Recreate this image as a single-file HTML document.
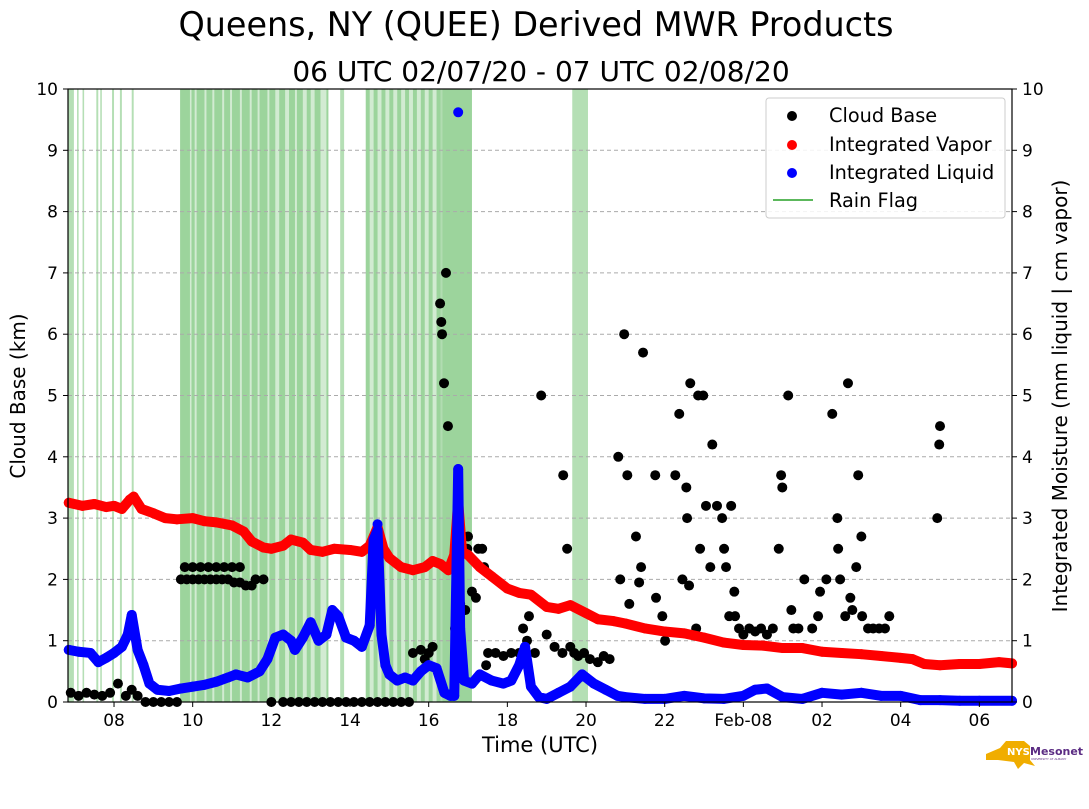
<!DOCTYPE html>
<html><head><meta charset="utf-8"><style>
body{margin:0;background:#fff;font-family:"Liberation Sans","DejaVu Sans",sans-serif}
svg text{font-family:"DejaVu Sans","Liberation Sans",sans-serif}
</style></head><body>
<svg id="c" width="1089" height="804" viewBox="0 0 1089 804">
<text x="536" y="36" font-size="33.4" text-anchor="middle">Queens, NY (QUEE) Derived MWR Products</text>
<text x="541" y="81" font-size="28" text-anchor="middle">06 UTC 02/07/20 - 07 UTC 02/08/20</text>
<g id="rain"></g>
<g id="grid"></g>
<g id="marks"></g>
<g id="axes"></g>
<text x="25" y="396" font-size="20" text-anchor="middle" transform="rotate(-90 25 396)">Cloud Base (km)</text>
<text x="1067" y="396" font-size="20" text-anchor="middle" transform="rotate(-90 1067 396)">Integrated Moisture (mm liquid | cm vapor)</text>
<text x="540" y="752" font-size="21" text-anchor="middle">Time (UTC)</text>
<g>
<rect x="766" y="98" width="239" height="120" rx="3" fill="#fff" fill-opacity="0.85" stroke="#ccc"/>
<circle cx="792" cy="116" r="5" fill="#000"/>
<text x="829" y="122" font-size="19.3">Cloud Base</text>
<circle cx="792" cy="145" r="5" fill="#f00"/>
<text x="829" y="151" font-size="19.3">Integrated Vapor</text>
<circle cx="792" cy="173" r="5" fill="#00f"/>
<text x="829" y="179" font-size="19.3">Integrated Liquid</text>
<line x1="773" y1="200" x2="813" y2="200" stroke="#5cb85c" stroke-width="2"/>
<text x="829" y="207" font-size="19.3">Rain Flag</text>
</g>
<g>
<polygon points="986,754 1000,748 1006,741 1024,741 1030,746 1030,760 1035,766 1024,763 1018,769 1014,762 998,760 986,760" fill="#f0ad00"/>
<text x="1007" y="755" font-size="10" font-weight="bold" fill="#fff">NYS</text>
<text x="1030" y="755" font-size="11" font-weight="bold" fill="#5b2c83">Mesonet</text>
<text x="1031" y="760" font-size="3" fill="#5b2c83">UNIVERSITY AT ALBANY</text>
</g>
</svg>
<script>
const xTickHours=[8,10,12,14,16,18,20,22,24,26,28,30];
const xTickLabels=["08","10","12","14","16","18","20","22","Feb-08","02","04","06"];
const yTicks=[0,1,2,3,4,5,6,7,8,9,10];
const rainStart=[6.83,7.06,7.2,7.55,7.65,7.95,8.15,8.45,9.68,9.97,10.1,10.35,10.55,10.8,11.0,11.25,11.5,11.7,11.95,12.2,12.45,12.65,12.9,13.1,13.4,13.75,14.4,14.6,14.8,15.0,15.2,15.4,15.6,15.8,16.0,16.2,16.35,19.65];
const rainEnd=[6.98,7.1,7.24,7.6,7.69,8.0,8.2,8.5,9.93,10.05,10.3,10.5,10.75,10.95,11.2,11.45,11.65,11.9,12.1,12.35,12.6,12.8,13.0,13.25,13.45,13.85,14.5,14.7,14.9,15.1,15.3,15.5,15.7,15.9,16.1,16.3,17.1,20.05];
const rainPaleStart=[9.68,14.4,16.3];
const rainPaleEnd=[13.45,16.35,17.1];
const vaporHours=[6.85,7.2,7.5,7.8,8.0,8.2,8.4,8.5,8.7,9.0,9.3,9.6,10.0,10.3,10.6,11.0,11.3,11.5,11.8,12.0,12.3,12.5,12.8,13.0,13.3,13.6,14.0,14.3,14.5,14.7,14.85,15.0,15.3,15.6,15.9,16.1,16.3,16.5,16.65,16.75,16.85,17.0,17.3,17.6,18.0,18.3,18.6,19.0,19.3,19.6,20.0,20.3,20.7,21.0,21.5,22.0,22.5,23.0,23.5,24.0,24.5,25.0,25.5,26.0,26.5,27.0,27.5,28.0,28.3,28.6,29.0,29.5,30.0,30.5,30.83];
const vaporVals=[3.25,3.2,3.23,3.18,3.2,3.15,3.3,3.35,3.15,3.08,3.0,2.98,3.0,2.95,2.93,2.88,2.78,2.62,2.52,2.5,2.55,2.65,2.6,2.48,2.45,2.5,2.48,2.45,2.55,2.85,2.5,2.35,2.2,2.15,2.2,2.3,2.25,2.15,2.4,3.27,2.45,2.4,2.2,2.05,1.85,1.78,1.75,1.55,1.52,1.58,1.45,1.35,1.32,1.28,1.2,1.15,1.12,1.05,0.97,0.93,0.92,0.88,0.88,0.82,0.8,0.78,0.75,0.72,0.7,0.62,0.6,0.62,0.62,0.65,0.63];
const liquidHours=[6.85,7.1,7.4,7.6,7.8,8.0,8.2,8.35,8.45,8.6,8.75,8.9,9.1,9.4,9.7,10.0,10.3,10.6,10.9,11.1,11.4,11.7,11.9,12.1,12.3,12.5,12.6,12.8,13.0,13.2,13.4,13.55,13.7,13.9,14.1,14.3,14.5,14.6,14.7,14.8,14.9,15.0,15.2,15.4,15.6,15.8,16.0,16.2,16.4,16.55,16.65,16.75,16.8,16.9,17.1,17.3,17.6,17.9,18.1,18.3,18.45,18.6,18.8,19.0,19.3,19.6,19.9,20.2,20.5,20.8,21.0,21.5,22.0,22.5,23.0,23.5,24.0,24.3,24.6,25.0,25.5,26.0,26.5,27.0,27.5,28.0,28.5,29.0,29.5,30.0,30.83];
const liquidVals=[0.85,0.82,0.8,0.65,0.72,0.8,0.9,1.1,1.42,0.85,0.6,0.3,0.2,0.18,0.22,0.25,0.28,0.33,0.4,0.45,0.4,0.5,0.7,1.05,1.1,1.0,0.85,1.05,1.3,1.0,1.1,1.5,1.4,1.05,1.0,0.9,1.25,2.65,2.8,1.1,0.6,0.45,0.35,0.4,0.35,0.5,0.6,0.55,0.15,0.1,0.1,3.8,1.2,0.35,0.3,0.45,0.35,0.3,0.35,0.6,0.9,0.25,0.08,0.05,0.15,0.25,0.45,0.3,0.2,0.1,0.08,0.05,0.05,0.1,0.06,0.05,0.1,0.2,0.22,0.08,0.05,0.15,0.12,0.15,0.1,0.1,0.03,0.03,0.02,0.02,0.02];
const liquidOutHours=[16.75,14.65,14.75,14.7];
const liquidOutVals=[9.62,2.05,1.7,2.9];
const cloudHours=[
6.9,7.1,7.3,7.5,7.7,7.9,8.1,8.3,8.45,8.6,
8.8,9.0,9.2,9.4,9.6,9.7,9.85,10.0,10.15,10.3,
10.45,10.6,10.75,10.9,11.05,11.2,11.35,11.5,9.8,10.0,
10.2,10.4,10.6,10.8,11.0,11.2,11.6,11.8,12.0,12.3,
12.5,12.7,12.9,13.1,13.3,13.5,13.7,13.9,14.1,14.3,
14.5,14.7,14.9,15.1,15.3,15.5,15.6,15.8,16.0,16.1,
15.9,16.29,16.32,16.34,16.39,16.44,16.49,16.62,16.67,16.8,
16.93,17.0,16.98,17.1,17.26,17.36,17.41,17.2,17.46,17.51,
17.7,17.9,18.1,18.3,18.4,18.5,18.55,18.86,18.7,19.0,
19.2,19.42,19.52,19.4,19.6,19.7,19.8,19.95,20.1,20.3,
20.45,20.6,20.82,20.87,20.97,21.05,21.1,21.27,21.35,21.4,
21.45,21.76,21.78,21.94,22.01,22.27,22.37,22.45,22.55,22.57,
22.65,22.62,22.8,22.9,22.85,22.98,23.16,23.05,23.21,23.33,
23.46,23.51,23.56,23.64,23.69,23.77,23.79,23.89,24.0,24.15,
24.3,24.45,24.6,24.75,24.9,24.96,24.99,25.14,25.22,25.27,
25.4,25.55,25.75,25.9,25.95,26.11,26.26,26.39,26.41,26.46,
26.59,26.66,26.72,26.77,26.87,26.92,27.0,27.02,27.17,27.3,
27.45,27.6,27.71,28.93,28.98,29.0];
const cloudKm=[
0.15,0.1,0.15,0.12,0.1,0.15,0.3,0.1,0.2,0.1,
0.0,0.0,0.0,0.0,0.0,2.0,2.0,2.0,2.0,2.0,
2.0,2.0,2.0,2.0,1.95,1.95,1.9,1.9,2.2,2.2,
2.2,2.2,2.2,2.2,2.2,2.2,2.0,2.0,0.0,0.0,
0.0,0.0,0.0,0.0,0.0,0.0,0.0,0.0,0.0,0.0,
0.0,0.0,0.0,0.0,0.0,0.0,0.8,0.85,0.8,0.9,
0.7,6.5,6.2,6.0,5.2,7.0,4.5,2.2,1.2,1.6,
1.5,2.7,2.5,1.8,2.5,2.5,2.2,1.7,0.6,0.8,
0.8,0.75,0.8,0.8,1.2,1.0,1.4,5.0,0.8,1.1,
0.9,3.7,2.5,0.8,0.9,0.8,0.75,0.8,0.7,0.65,
0.75,0.7,4.0,2.0,6.0,3.7,1.6,2.7,1.95,2.2,
5.7,3.7,1.7,1.4,1.0,3.7,4.7,2.0,3.5,3.0,
5.2,1.9,1.2,2.5,5.0,5.0,2.2,3.2,4.2,3.2,
3.0,2.5,2.2,1.4,3.2,1.8,1.4,1.2,1.1,1.2,
1.15,1.2,1.1,1.2,2.5,3.7,3.5,5.0,1.5,1.2,
1.2,2.0,1.2,1.4,1.8,2.0,4.7,3.0,2.5,2.0,
1.4,5.2,1.7,1.5,2.2,3.7,2.7,1.4,1.2,1.2,
1.2,1.2,1.4,3.0,4.2,4.5];

const L=68,R=1012,T=89,B=702,H0=6.83,H1=30.83;
const X=h=>L+(h-H0)/(H1-H0)*(R-L);
const Y=v=>B-v/10*(B-T);
const NS="http://www.w3.org/2000/svg";
function mk(tag,parent,at){const e=document.createElementNS(NS,tag);for(const k in at)e.setAttribute(k,at[k]);parent.appendChild(e);return e;}
const rain=document.getElementById('rain'),grid=document.getElementById('grid'),marks=document.getElementById('marks'),axes=document.getElementById('axes');
rainPaleStart.forEach((s,i)=>{
  const r=mk('rect',rain,{x:X(s),y:T,width:X(rainPaleEnd[i])-X(s),height:B-T,fill:'#5cb85c','fill-opacity':0.28});
  
  
});
rainStart.forEach((s,i)=>{
  const r=mk('rect',rain,{x:X(s),y:T,width:Math.max(1.5,X(rainEnd[i])-X(s)),height:B-T,fill:'#5cb85c','fill-opacity':0.45});
  
  
});
yTicks.forEach(v=>{
  if(v>0&&v<10){const g=mk('line',grid,{x1:L,x2:R,y1:Y(v),y2:Y(v),stroke:'#aaa','stroke-dasharray':'4,3','stroke-width':1});
  
  }
  const t1=mk('text',axes,{x:L-10,y:Y(v)+6,'font-size':17,'text-anchor':'end'});t1.textContent=v;
  
  
  const t2=mk('text',axes,{x:R+10,y:Y(v)+6,'font-size':17});t2.textContent=v;
  
  
  mk('line',axes,{x1:L-5,x2:L,y1:Y(v),y2:Y(v),stroke:'#000'});
  mk('line',axes,{x1:R,x2:R+5,y1:Y(v),y2:Y(v),stroke:'#000'});
});
xTickHours.forEach((h,i)=>{
  mk('line',axes,{x1:X(h),x2:X(h),y1:B,y2:B+5,stroke:'#000'});
  const t=mk('text',axes,{x:X(h),y:B+24,'font-size':17,'text-anchor':'middle'});t.textContent=xTickLabels[i];
  
  
});
mk('rect',axes,{x:L,y:T,width:R-L,height:B-T,fill:'none',stroke:'#000','stroke-width':1.2});
function series(hs,vs,col,name){
  const n=Math.min(hs.length,vs.length);
  const pts=[];for(let i=0;i<n;i++)pts.push(X(hs[i])+','+Y(vs[i]));
  const p=mk('polyline',marks,{points:pts.join(' '),fill:'none',stroke:col,'stroke-width':10,'stroke-linejoin':'round','stroke-linecap':'round'});
  
  
}
function dots(hs,vs,col,name){
  const n=Math.min(hs.length,vs.length);
  for(let i=0;i<n;i++){const c=mk('circle',marks,{cx:X(hs[i]),cy:Y(vs[i]),r:5,fill:col});
  
  }
}
dots(cloudHours,cloudKm,'#000','cloud-base-point');
series(vaporHours,vaporVals,'#f00','integrated-vapor');
dots(vaporHours,vaporVals,'#f00','vapor-point');
series(liquidHours,liquidVals,'#00f','integrated-liquid');
dots(liquidHours,liquidVals,'#00f','liquid-point');
dots(liquidOutHours,liquidOutVals,'#00f','liquid-point');
</script>
</body></html>
